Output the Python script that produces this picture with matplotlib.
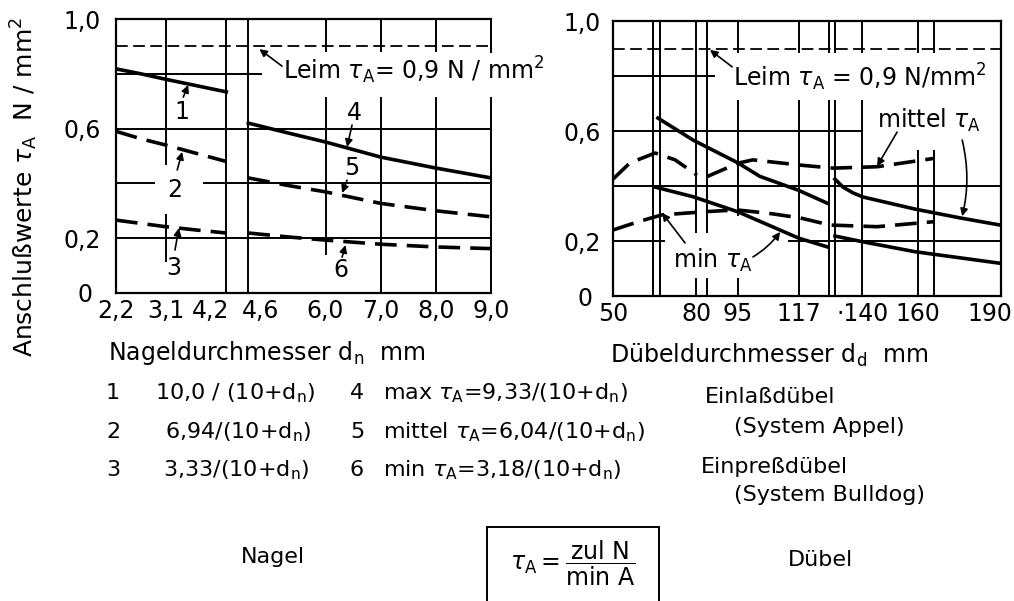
import numpy as np
import matplotlib
matplotlib.use('Agg')
import matplotlib.pyplot as plt
from matplotlib.patches import Rectangle
from matplotlib.transforms import ScaledTranslation

plt.rcParams['font.family'] = ['DejaVu Sans']
plt.rcParams['mathtext.fontset'] = 'dejavusans'
plt.rcParams['font.size'] = 17

# --- Nagel (left panel) ---
nagel_ticks = [2.2, 3.1, 4.2, 4.6, 6.0, 7.0, 8.0, 9.0]
nagel_labels = ['2,2', '3,1', '4,2', '4,6', '6,0', '7,0', '8,0', '9,0']
d_klein = [2.2, 2.65, 3.1, 3.65, 4.2]
kurve1 = [0.818, 0.80, 0.78, 0.757, 0.734]
kurve2 = [0.59, 0.563, 0.54, 0.51, 0.48]
kurve3 = [0.266, 0.254, 0.242, 0.23, 0.219]
d_gross = [4.6, 5.3, 6.0, 7.0, 8.0, 9.0]
kurve4 = [0.62, 0.585, 0.551, 0.496, 0.456, 0.42]
kurve5 = [0.42, 0.393, 0.369, 0.327, 0.30, 0.278]
kurve6 = [0.219, 0.205, 0.193, 0.178, 0.168, 0.162]

# --- Dübel (right panel) ---
duebel_ticks = [50, 80, 95, 117, 140, 160, 190]
duebel_labels = ['50', '80', '95', '117', '·140', '160', '190']
# solid curves, two pieces each
mittel_d1 = [66.2, 78.9, 95.1, 103, 116.8, 127.2]
mittel_t1 = [0.647, 0.567, 0.484, 0.435, 0.385, 0.338]
mittel_d2 = [130.1, 133, 136.6, 140.2, 159, 175.2, 189.7]
mittel_t2 = [0.425, 0.396, 0.375, 0.36, 0.316, 0.284, 0.258]
min_d1 = [65.2, 78.9, 95.1, 117.1, 127.2]
min_t1 = [0.396, 0.361, 0.306, 0.21, 0.179]
min_d2 = [130.1, 140.2, 159, 189.7]
min_t2 = [0.218, 0.197, 0.161, 0.119]
# dashed curves
gestr_mittel_d1 = [50, 56.1, 65.2, 72.4, 80.3]
gestr_mittel_t1 = [0.425, 0.484, 0.52, 0.495, 0.44]
gestr_mittel_d2 = [83.9, 95.1, 100.5, 117.5, 129.4, 145.3, 165.5]
gestr_mittel_t2 = [0.434, 0.483, 0.495, 0.476, 0.465, 0.47, 0.50]
gestr_min_d = [50, 59.7, 67.7, 83.9, 94.7, 106.7, 117.5, 128.3, 145.3, 165.5]
gestr_min_t = [0.24, 0.272, 0.295, 0.307, 0.313, 0.30, 0.284, 0.258, 0.252, 0.27]

leim = 0.9
y_ticks = [0, 0.2, 0.6, 1.0]
y_labels = ['0 ', '0,2', '0,6', '1,0']

W, H = 1014, 601
def fx(px):
    return px / W
def fy(py):
    return 1 - py / H

fig = plt.figure(figsize=(W / 100, H / 100), dpi=100)
ax1 = fig.add_axes([fx(116), fy(293), 375 / W, 274 / H])
ax2 = fig.add_axes([fx(613), fy(296), 388 / W, 275 / H])

dash = (0, (6, 2.8))
GRID = dict(color='k', lw=1.4)

def rahmen(ax, xlim, ticks, labels, ypad):
    ax.set_xlim(xlim)
    ax.set_ylim(0, 1.0)
    ax.set_xticks(ticks, labels)
    ax.set_yticks(y_ticks, y_labels)
    ax.tick_params(length=0, labelsize=17)
    ax.tick_params(axis='y', pad=ypad)
    ax.tick_params(axis='x', pad=4)
    for s in ax.spines.values():
        s.set_linewidth(1.6)
    ax.axhline(leim, color='k', lw=1.3, ls=(0, (6.5, 3)))

def gitter(ax, hseg, vseg):
    for y, x0, x1 in hseg:
        ax.hlines(y, x0, x1, **GRID)
    for x, y0, y1 in vseg:
        ax.vlines(x, y0, y1, clip_on=False, **GRID)

def pfeil(ax, tail, tip, rad=0.0):
    ax.annotate('', xy=tip, xytext=tail,
                arrowprops=dict(arrowstyle='-|>', color='k', lw=1.2,
                                mutation_scale=11, shrinkA=0, shrinkB=0,
                                connectionstyle='arc3,rad=%s' % rad))

# left panel
rahmen(ax1, (2.2, 9.0), nagel_ticks, nagel_labels, 11)
ax1.spines['right'].set_visible(False)
gitter(ax1,
       [(0.8, 2.2, 4.85), (0.6, 2.2, 9.0), (0.4, 2.2, 2.91), (0.4, 3.78, 9.0), (0.2, 2.2, 9.0)],
       [(3.1, 0.467, 1.0), (3.1, 0.113, 0.29), (4.2, 0, 1), (4.6, 0, 1),
        (6.0, 0.88, 1.0), (6.0, 0.139, 0.715),
        (7.0, 0.88, 1.0), (7.0, 0, 0.715), (8.0, 0.88, 1.0), (8.0, 0, 0.715),
        (9.0, 0.875, 1.0), (9.0, 0, 0.715)])
ax1.plot(d_klein, kurve1, color='k', lw=2.6)
ax1.plot(d_klein, kurve2, color='k', lw=2.6, ls=dash)
ax1.plot(d_klein, kurve3, color='k', lw=2.6, ls=dash)
ax1.plot(d_gross, kurve4, color='k', lw=2.6)
ax1.plot(d_gross, kurve5, color='k', lw=2.6, ls=dash)
ax1.plot(d_gross, kurve6, color='k', lw=2.6, ls=dash)

# 4,2 and 4,6 sit close together
tl = ax1.get_xticklabels()
tl[2].set_horizontalalignment('right')
tl[2].set_transform(tl[2].get_transform() + ScaledTranslation(2 / 72, 0, fig.dpi_scale_trans))
tl[3].set_horizontalalignment('left')
tl[3].set_transform(tl[3].get_transform() + ScaledTranslation(-5 / 72, 0, fig.dpi_scale_trans))

for t, xy, tail, tip in [('1', (3.4, 0.66), (3.42, 0.715), (3.51, 0.759)),
                         ('2', (3.27, 0.376), (3.31, 0.449), (3.40, 0.515)),
                         ('3', (3.25, 0.091), (3.27, 0.157), (3.34, 0.237)),
                         ('4', (6.52, 0.657), (6.48, 0.613), (6.39, 0.533)),
                         ('5', (6.48, 0.456), (6.39, 0.412), (6.30, 0.365)),
                         ('6', (6.27, 0.084), (6.30, 0.131), (6.36, 0.175))]:
    ax1.text(xy[0], xy[1], t, ha='center', va='center', fontsize=17)
    pfeil(ax1, tail, tip)
ax1.text(5.23, 0.814, 'Leim $\\tau_\\mathrm{A}$= 0,9 N / mm$^2$', ha='left', va='center', fontsize=17)
pfeil(ax1, (5.21, 0.828), (4.8, 0.89))

# right panel
rahmen(ax2, (50, 190), duebel_ticks, duebel_labels, 9)
tl = ax2.get_xticklabels()
tl[-1].set_transform(tl[-1].get_transform() + ScaledTranslation(-8 / 72, 0, fig.dpi_scale_trans))
gitter(ax2,
       [(0.8, 50, 86.8), (0.6, 50, 140.2), (0.4, 50, 190), (0.2, 50, 68.8), (0.2, 113.2, 190)],
       [(64.4, 0, 1), (67.0, 0, 1),
        (80, 0.229, 1.0), (80, 0, 0.065), (84, 0.229, 1.0), (84, 0, 0.065),
        (95, 0.884, 1.0), (95, 0.29, 0.713), (95, 0, 0.065),
        (117, 0.884, 1.0), (117, 0, 0.713),
        (128, 0.884, 1.0), (128, 0, 0.713), (130, 0.884, 1.0), (130, 0, 0.713),
        (140, 0.884, 1.0), (140, 0, 0.713),
        (160, 0.884, 1.0), (160, 0, 0.53), (166, 0.884, 1.0), (166, 0, 0.53)])
ax2.plot(mittel_d1, mittel_t1, color='k', lw=2.6)
ax2.plot(mittel_d2, mittel_t2, color='k', lw=2.6)
ax2.plot(min_d1, min_t1, color='k', lw=2.6)
ax2.plot(min_d2, min_t2, color='k', lw=2.6)
ax2.plot(gestr_mittel_d1, gestr_mittel_t1, color='k', lw=2.6, ls=dash)
ax2.plot(gestr_mittel_d2, gestr_mittel_t2, color='k', lw=2.6, ls=dash)
ax2.plot(gestr_min_d, gestr_min_t, color='k', lw=2.6, ls=dash)

ax2.text(93.3, 0.796, 'Leim $\\tau_\\mathrm{A}$ = 0,9 N/mm$^2$', ha='left', va='center', fontsize=17)
pfeil(ax2, (93.0, 0.833), (85.0, 0.895))
ax2.text(145.3, 0.64, 'mittel $\\tau_\\mathrm{A}$', ha='left', va='center', fontsize=17)
pfeil(ax2, (152.5, 0.596), (145.3, 0.472))
pfeil(ax2, (176, 0.567), (176, 0.29), rad=-0.12)
ax2.text(71.7, 0.131, 'min $\\tau_\\mathrm{A}$', ha='left', va='center', fontsize=17)
pfeil(ax2, (76, 0.193), (67.7, 0.302))
pfeil(ax2, (100.5, 0.142), (110.3, 0.233), rad=0.1)

# y label
fig.text(fx(24), fy(187), 'Anschlußwerte $\\tau_\\mathrm{A}$  N / mm$^2$',
         rotation=90, ha='center', va='center', fontsize=18)

# text below the charts
fs = 16
fig.text(fx(108), fy(353), 'Nageldurchmesser d$_\\mathrm{n}$  mm', ha='left', va='center', fontsize=17)
fig.text(fx(610), fy(355), 'Dübeldurchmesser d$_\\mathrm{d}$  mm', ha='left', va='center', fontsize=17)
zeilen = [('1', '10,0 / (10+d$_\\mathrm{n}$)', '4', 'max $\\tau_\\mathrm{A}$=9,33/(10+d$_\\mathrm{n}$)', 393, 155),
          ('2', '6,94/(10+d$_\\mathrm{n}$)', '5', 'mittel $\\tau_\\mathrm{A}$=6,04/(10+d$_\\mathrm{n}$)', 432, 165),
          ('3', '3,33/(10+d$_\\mathrm{n}$)', '6', 'min $\\tau_\\mathrm{A}$=3,18/(10+d$_\\mathrm{n}$)', 470, 163)]
for n1, f1, n2, f2, py, px1 in zeilen:
    fig.text(fx(113), fy(py), n1, ha='center', va='center', fontsize=fs)
    fig.text(fx(px1), fy(py), f1, ha='left', va='center', fontsize=fs)
    fig.text(fx(357), fy(py), n2, ha='center', va='center', fontsize=fs)
    fig.text(fx(383), fy(py), f2, ha='left', va='center', fontsize=fs)
fig.text(fx(705), fy(397), 'Einlaßdübel', ha='left', va='center', fontsize=fs)
fig.text(fx(734), fy(427), '(System Appel)', ha='left', va='center', fontsize=fs)
fig.text(fx(701), fy(467), 'Einpreßdübel', ha='left', va='center', fontsize=fs)
fig.text(fx(734), fy(495), '(System Bulldog)', ha='left', va='center', fontsize=fs)

fig.text(fx(273), fy(557), 'Nagel', ha='center', va='center', fontsize=fs)
fig.text(fx(820), fy(560), 'Dübel', ha='center', va='center', fontsize=fs)
fig.add_artist(Rectangle((fx(487), fy(610)), 172 / W, 83 / H, transform=fig.transFigure,
                         fill=False, lw=1.4, color='k'))
fig.text(fx(573), fy(563), '$\\tau_\\mathrm{A} = \\dfrac{\\mathrm{zul\\ N}}{\\mathrm{min\\ A}}$',
         ha='center', va='center', fontsize=17)

fig.savefig('out.png', dpi=100)
